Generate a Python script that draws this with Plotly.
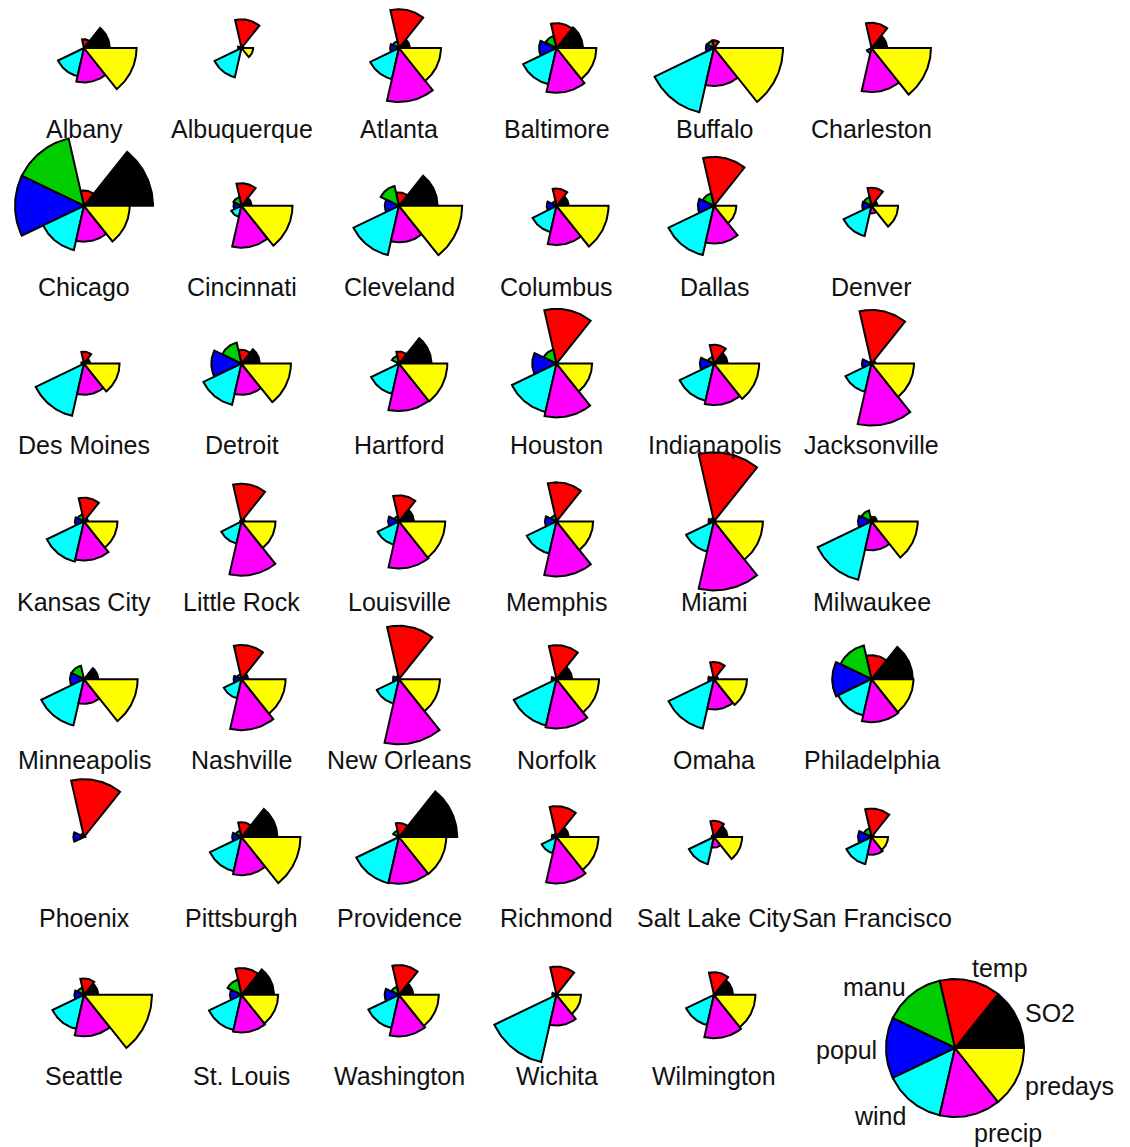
import math
import plotly.graph_objects as go

# US air pollution data, 41 cities
cities = ["Albany", "Albuquerque", "Atlanta", "Baltimore", "Buffalo", "Charleston",
          "Chicago", "Cincinnati", "Cleveland", "Columbus", "Dallas", "Denver",
          "Des Moines", "Detroit", "Hartford", "Houston", "Indianapolis", "Jacksonville",
          "Kansas City", "Little Rock", "Louisville", "Memphis", "Miami", "Milwaukee",
          "Minneapolis", "Nashville", "New Orleans", "Norfolk", "Omaha", "Philadelphia",
          "Phoenix", "Pittsburgh", "Providence", "Richmond", "Salt Lake City", "San Francisco",
          "Seattle", "St. Louis", "Washington", "Wichita", "Wilmington"]

so2 = [46, 11, 24, 47, 11, 31, 110, 23, 65, 26, 9, 17, 17, 35, 56, 10, 28, 14, 14, 13, 30,
       10, 10, 16, 29, 18, 9, 31, 14, 69, 10, 61, 94, 26, 28, 12, 29, 56, 29, 8, 36]
temp = [47.6, 56.8, 61.5, 55.0, 47.1, 55.2, 50.6, 54.0, 49.7, 51.5, 66.2, 51.9, 49.0, 49.9,
        49.1, 68.9, 52.3, 68.4, 54.5, 61.0, 55.6, 61.6, 75.5, 45.7, 43.5, 59.4, 68.3, 59.3,
        51.5, 54.6, 70.3, 50.4, 50.0, 57.8, 51.0, 56.7, 51.1, 55.9, 57.3, 56.6, 54.0]
manu = [44, 46, 368, 625, 391, 35, 3344, 462, 1007, 266, 641, 454, 104, 1064, 412, 721, 361,
        136, 381, 91, 291, 337, 207, 569, 699, 275, 204, 96, 181, 1692, 213, 347, 343, 197,
        137, 453, 379, 775, 434, 125, 80]
popul = [116, 244, 497, 905, 463, 71, 3369, 453, 751, 540, 844, 515, 201, 1513, 158, 1233,
         746, 529, 507, 132, 593, 624, 335, 717, 744, 448, 361, 308, 347, 1950, 582, 520, 179,
         299, 176, 716, 531, 622, 757, 277, 80]
wind = [8.8, 8.9, 9.1, 9.6, 12.4, 6.5, 10.4, 7.1, 10.9, 8.6, 10.9, 9.0, 11.2, 10.1, 9.0,
        10.8, 9.7, 8.8, 10.0, 8.2, 8.3, 9.2, 9.0, 11.8, 10.6, 7.9, 8.4, 10.6, 10.9, 9.6, 6.0,
        9.4, 10.6, 7.6, 8.7, 8.7, 9.4, 9.5, 9.3, 12.7, 9.0]
precip = [33.36, 7.77, 48.34, 41.31, 36.11, 40.75, 34.44, 39.04, 34.99, 37.01, 35.94, 12.95,
          30.85, 30.96, 43.37, 48.19, 38.74, 54.47, 37.00, 48.52, 43.11, 49.10, 59.80, 29.07,
          25.94, 46.00, 56.77, 44.68, 30.18, 39.93, 7.05, 36.22, 42.75, 42.59, 15.17, 20.66,
          38.79, 35.89, 38.89, 30.58, 40.25]
predays = [135, 58, 115, 111, 166, 148, 122, 132, 155, 134, 78, 86, 103, 129, 127, 103, 121,
           116, 99, 100, 123, 105, 128, 123, 137, 119, 113, 116, 98, 115, 36, 147, 125, 115,
           89, 67, 164, 105, 111, 82, 114]

variables = ["SO2", "temp", "manu", "popul", "wind", "precip", "predays"]
seg_colors = ["#000000", "#FF0000", "#00CD00", "#0000FF", "#00FFFF", "#FF00FF", "#FFFF00"]

W, H = 1130, 1147
R = 69            # length of a full segment, in axis units (one unit = one pixel)
COL0, COLSTEP = 84, 157.5
ROW0, ROWSTEP = 48, 157.8
LABEL_DROP = 81
FONT = "Arial, Liberation Sans, sans-serif"
FS = 25
ARC_PTS = 40


def rescale(col):
    lo, hi = min(col), max(col)
    return [(v - lo) / (hi - lo) for v in col]


scaled = [rescale(c) for c in (so2, temp, manu, popul, wind, precip, predays)]
n_seg = len(variables)
step = 2 * math.pi / n_seg

# one list of polygon outlines per variable (segments separated by None)
seg_x = [[] for _ in range(n_seg)]
seg_y = [[] for _ in range(n_seg)]
annotations = []


def add_star(cx, cy, radii):
    for k, r in enumerate(radii):
        if r <= 0:
            continue
        a0 = k * step
        xs, ys = [cx], [cy]
        for j in range(ARC_PTS + 1):
            a = a0 + step * j / ARC_PTS
            xs.append(cx + r * R * math.cos(a))
            ys.append(cy - r * R * math.sin(a))
        xs.append(cx)
        ys.append(cy)
        seg_x[k] += xs + [None]
        seg_y[k] += ys + [None]


for i, city in enumerate(cities):
    row, col = divmod(i, 6)
    cx = COL0 + COLSTEP * col
    cy = ROW0 + ROWSTEP * row
    add_star(cx, cy, [s[i] for s in scaled])
    annotations.append(dict(
        x=cx, y=cy + LABEL_DROP, xref="x", yref="y",
        text=city, showarrow=False, xanchor="center", yanchor="middle",
        font=dict(family=FONT, size=FS, color="#111111"),
    ))

# key star with the variable names
KX, KY = 955, 1048
add_star(KX, KY, [1] * n_seg)
key_pos = [  # (dx, dy, xanchor) offsets of the key labels from the key centre
    (68, -35, "left"),
    (15, -80, "left"),
    (-47, -61, "right"),
    (-76, 2, "right"),
    (-47, 68, "right"),
    (17, 85, "left"),
    (68, 38, "left"),
]
for name, (dx, dy, xa) in zip(variables, key_pos):
    annotations.append(dict(
        x=KX + dx, y=KY + dy, xref="x", yref="y",
        text=name, showarrow=False, xanchor=xa, yanchor="middle",
        font=dict(family=FONT, size=FS, color="#111111"),
    ))

fig = go.Figure()
for k in range(n_seg):
    fig.add_trace(go.Scatter(
        x=seg_x[k], y=seg_y[k], mode="lines", fill="toself",
        fillcolor=seg_colors[k], line=dict(color="black", width=2),
        name=variables[k], hoverinfo="skip", showlegend=False,
    ))

fig.update_layout(
    width=W, height=H, margin=dict(l=0, r=0, t=0, b=0),
    paper_bgcolor="white", plot_bgcolor="white",
    xaxis=dict(range=[0, W], visible=False, fixedrange=True),
    yaxis=dict(range=[H, 0], visible=False, fixedrange=True),
    annotations=annotations, showlegend=False,
)

fig.write_html("out.html", config={"displayModeBar": False})
